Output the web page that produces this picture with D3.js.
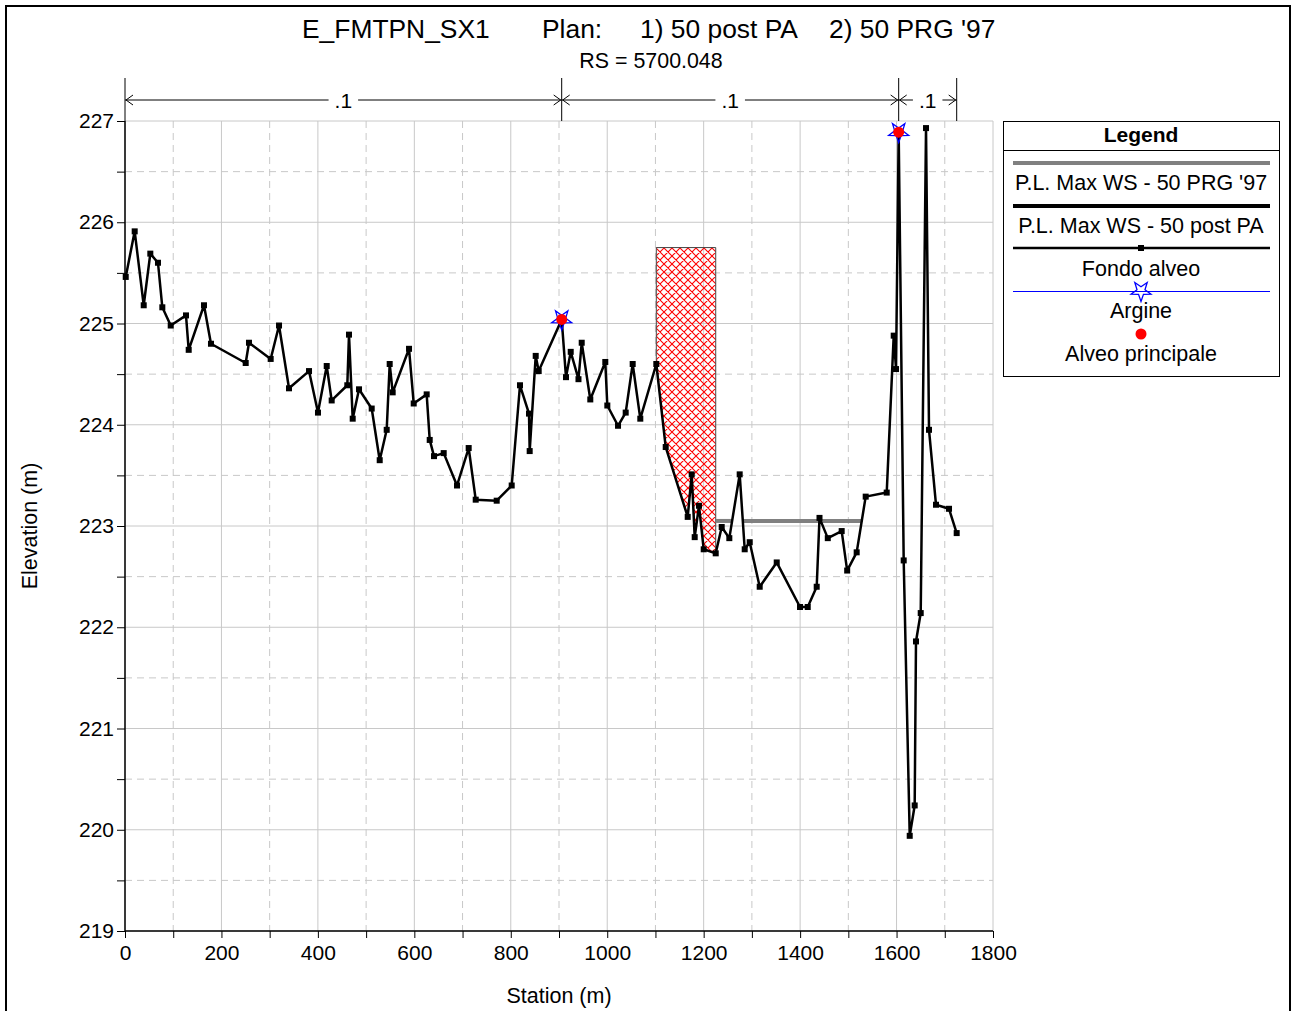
<!DOCTYPE html>
<html><head><meta charset="utf-8">
<script src="https://cdn.jsdelivr.net/npm/d3@7"></script>
<style>body{margin:0;background:#fff}svg text{font-family:"Liberation Sans",Arial,sans-serif}</style>
</head><body><svg id="c" width="1298" height="1011"></svg>
<script>
// ---- data ----
const station = [1.5,20.1,38.8,52.5,68.4,77.4,94.8,126.5,132.1,163.8,178.3,250.3,257.1,302.1,319.4,340.1,381.6,400.2,418.3,428.6,461,464.5,472.2,485.3,511.6,528.2,542.7,548.9,555.1,589,598.7,625.6,631.9,640.8,660.9,688.5,712.7,727.3,770.8,801.9,819.1,837.8,839.2,851.7,857.9,905.6,914.5,924.3,940.4,947.1,964.9,996,1000.2,1022.4,1038.3,1052.8,1068.6,1101.8,1121.3,1166.9,1175.2,1181.4,1190.3,1200.1,1225,1237.4,1253.2,1274.7,1285.1,1295.5,1316.2,1351.5,1399.8,1415.8,1434.4,1440.2,1457.4,1486.2,1497.6,1517.3,1536,1579.6,1594.1,1598.9,1604.4,1614.8,1627.3,1637.6,1640.3,1650.1,1661.1,1667.3,1681.8,1708.8,1724.7];
const elevation = [225.46,225.91,225.18,225.69,225.60,225.16,224.98,225.08,224.74,225.18,224.80,224.61,224.81,224.65,224.98,224.36,224.53,224.12,224.58,224.24,224.39,224.89,224.06,224.35,224.16,223.65,223.95,224.60,224.32,224.75,224.21,224.30,223.85,223.69,223.72,223.40,223.77,223.26,223.25,223.40,224.39,224.11,223.74,224.68,224.53,225.04,224.47,224.72,224.45,224.81,224.25,224.62,224.19,223.99,224.12,224.60,224.06,224.60,223.78,223.09,223.51,222.89,223.20,222.77,222.73,222.99,222.88,223.51,222.77,222.84,222.40,222.64,222.20,222.20,222.40,223.08,222.88,222.95,222.56,222.74,223.29,223.33,224.88,224.55,226.89,222.66,219.94,220.24,221.86,222.14,226.93,223.95,223.21,223.17,222.93];
const bankStations = [905.6, 1604.4];
const mannStations = [0, 905.6, 1604.4, 1724.7];
const mannValues = [".1", ".1", ".1"];
const obstruction = {from: 1101.8, to: 1225, top: 225.75};
const wsPRG97 = 223.05;      // P.L. Max WS - 50 PRG '97
const wsLimits = [1225, 1604.4];
const xTicks = [0,200,400,600,800,1000,1200,1400,1600,1800];
const yTicks = [219,220,221,222,223,224,225,226,227];
const legendItems = ["P.L. Max WS - 50 PRG '97","P.L. Max WS - 50 post PA","Fondo alveo","Argine","Alveo principale"];
const titleParts = ["E_FMTPN_SX1","Plan:","1) 50 post PA","2) 50 PRG '97"];
const subtitle = "RS = 5700.048";

// ---- drawing ----
const svg = d3.select("#c");
const x = d3.scaleLinear().domain([0,1800]).range([125,993]);
const y = d3.scaleLinear().domain([219,227]).range([931,121]);
const ground = station.map((s,i)=>({s, e: elevation[i]}));

// outer frame
svg.append("rect").attr("x",6).attr("y",6).attr("width",1284).attr("height",1010)
  .attr("fill","none").attr("stroke","#000").attr("stroke-width",2);

// hatch pattern
const defs = svg.append("defs");
const pat = defs.append("pattern").attr("id","hatch").attr("patternUnits","userSpaceOnUse")
  .attr("width",8).attr("height",8).attr("x",0).attr("y",0);
pat.append("path").attr("d","M-1,-1L9,9M9,-1L-1,9M-1,7L1,9M7,-1L9,1M7,9L9,7M-1,1L1,-1").attr("stroke","#ff0000").attr("stroke-width",1.1);

// grid
const g = svg.append("g");
const minorX = d3.range(100,1800,200), minorY = d3.range(219.5,227,1);
g.selectAll(".gmx").data(minorX).join("line").attr("x1",d=>x(d)).attr("x2",d=>x(d)).attr("y1",y(227)).attr("y2",y(219))
  .attr("stroke","#c8c8c8").attr("stroke-dasharray","7,5");
g.selectAll(".gmy").data(minorY).join("line").attr("y1",d=>y(d)).attr("y2",d=>y(d)).attr("x1",x(0)).attr("x2",x(1800))
  .attr("stroke","#c8c8c8").attr("stroke-dasharray","7,5");
g.selectAll(".gx").data(xTicks).join("line").attr("x1",d=>x(d)).attr("x2",d=>x(d)).attr("y1",y(227)).attr("y2",y(219))
  .attr("stroke","#c8c8c8");
g.selectAll(".gy").data(yTicks).join("line").attr("y1",d=>y(d)).attr("y2",d=>y(d)).attr("x1",x(0)).attr("x2",x(1800))
  .attr("stroke","#c8c8c8");

// axes
const xAxis = d3.axisBottom(x).tickValues(d3.range(0,1801,100)).tickSize(7)
  .tickFormat(d=> xTicks.includes(d)? d : "");
const ax = svg.append("g").attr("transform",`translate(0,${y(219)})`).call(xAxis);
ax.select(".domain").attr("stroke","#000").attr("stroke-width",1.5).attr("d",`M${x(0)},0H${x(1800)}`);
ax.selectAll("text").attr("font-size",21).attr("fill","#000").attr("y",8).attr("dy","1.0em");
const yAxis = d3.axisLeft(y).tickValues(d3.range(219,227.01,0.5)).tickSize(8)
  .tickFormat(d=> Number.isInteger(d)? d : "");
const ay = svg.append("g").attr("transform",`translate(${x(0)},0)`).call(yAxis);
ay.select(".domain").attr("stroke","#000").attr("stroke-width",1.5).attr("d",`M0,${y(227)}V${y(219)}`);
ay.selectAll("text").attr("font-size",21).attr("fill","#000").attr("x",-11);

svg.append("text").attr("x",559).attr("y",1003).attr("text-anchor","middle").attr("font-size",21.5).text("Station (m)");
svg.append("text").attr("transform",`translate(37,526) rotate(-90)`).attr("text-anchor","middle").attr("font-size",21.5).text("Elevation (m)");

// titles
const tx = [302,542,640,829];
titleParts.forEach((t,i)=> svg.append("text").attr("x",tx[i]).attr("y",38).attr("font-size",26.4).text(t));
svg.append("text").attr("x",651).attr("y",68).attr("text-anchor","middle").attr("font-size",21.4).text(subtitle);

// obstruction polygon
const obsGround = ground.filter(p=>p.s>=obstruction.from && p.s<=obstruction.to);
const obsPts = [[obstruction.from,obstruction.top],[obstruction.to,obstruction.top]]
  .concat(obsGround.slice().reverse().map(p=>[p.s,p.e]));
svg.append("path").attr("d", d3.line().x(d=>x(d[0])).y(d=>y(d[1]))(obsPts)+"Z")
  .attr("fill","url(#hatch)").attr("stroke","#444").attr("stroke-width",1);

// water surface segments (where ground below WS)
function wsSegments(ws, lo, hi){
  const segs=[]; let cur=null;
  for(let i=0;i<ground.length-1;i++){
    const a=ground[i], b=ground[i+1];
    if(b.s<=lo || a.s>=hi) continue;
    const aBelow=a.e<ws, bBelow=b.e<ws;
    const cross = (a.s + (ws-a.e)/(b.e-a.e)*(b.s-a.s));
    if(aBelow && !cur){ cur=[Math.max(a.s,lo)]; }
    if(aBelow && !bBelow){ cur.push(Math.min(cross,hi)); segs.push(cur); cur=null; }
    if(!aBelow && bBelow && cross<hi){ cur=[Math.max(cross,lo)]; }
  }
  if(cur){cur.push(hi);segs.push(cur);}
  return segs;
}
wsSegments(wsPRG97, wsLimits[0], wsLimits[1]).forEach(s=>{
  svg.append("line").attr("x1",x(s[0])).attr("x2",x(s[1])).attr("y1",y(wsPRG97)).attr("y2",y(wsPRG97))
    .attr("stroke","#808080").attr("stroke-width",4);
});

// ground line
svg.append("path").attr("d", d3.line().x(d=>x(d.s)).y(d=>y(d.e))(ground))
  .attr("fill","none").attr("stroke","#000").attr("stroke-width",2.5).attr("stroke-linejoin","round");
svg.selectAll(".mk").data(ground).join("rect").attr("x",d=>x(d.s)-3).attr("y",d=>y(d.e)-3)
  .attr("width",6).attr("height",6).attr("fill","#000");

// star symbol (inverted pentagram outline)
function starPath(cx,cy,R,r){
  const pts=[];
  for(let i=0;i<10;i++){
    const ang = Math.PI/2 + i*Math.PI/5; // start pointing down
    const rad = i%2===0? R : r;
    pts.push([cx+rad*Math.cos(ang), cy+rad*Math.sin(ang)]);
  }
  return "M"+pts.map(p=>p.join(",")).join("L")+"Z";
}
bankStations.forEach(bs=>{
  const i = station.indexOf(bs);
  const cx=x(bs), cy=y(elevation[i]);
  svg.append("path").attr("d",starPath(cx,cy,10.5,4.2)).attr("fill","none").attr("stroke","#0000ff").attr("stroke-width",1.3);
  svg.append("circle").attr("cx",cx).attr("cy",cy).attr("r",5.5).attr("fill","#ff0000");
});

// Manning's n
const ny = 100;
mannStations.forEach(s=> svg.append("line").attr("x1",x(s)).attr("x2",x(s)).attr("y1",78).attr("y2",y(227)).attr("stroke","#000").attr("stroke-width",1));
mannValues.forEach((v,i)=>{
  const x0=x(mannStations[i]), x1=x(mannStations[i+1]), xm=(x0+x1)/2;
  const t = svg.append("text").attr("x",xm).attr("y",ny+8).attr("text-anchor","middle").attr("font-size",21).text(v);
  const w = t.node().getComputedTextLength();
  const gap = w/2+6;
  svg.append("line").attr("x1",x0).attr("x2",xm-gap).attr("y1",ny).attr("y2",ny).attr("stroke","#000");
  svg.append("line").attr("x1",xm+gap).attr("x2",x1).attr("y1",ny).attr("y2",ny).attr("stroke","#000");
  svg.append("path").attr("d",`M${x0+8},${ny-5}L${x0+1},${ny}L${x0+8},${ny+5}`).attr("fill","none").attr("stroke","#000");
  svg.append("path").attr("d",`M${x1-8},${ny-5}L${x1-1},${ny}L${x1-8},${ny+5}`).attr("fill","none").attr("stroke","#000");
});

// legend
const L = svg.append("g");
L.append("rect").attr("x",1003.5).attr("y",121.5).attr("width",276).attr("height",255).attr("fill","#fff").attr("stroke","#000");
L.append("line").attr("x1",1003.5).attr("x2",1279.5).attr("y1",150.5).attr("y2",150.5).attr("stroke","#000");
L.append("text").attr("x",1141).attr("y",142).attr("text-anchor","middle").attr("font-size",21).attr("font-weight","bold").text("Legend");
const lx0=1013, lx1=1270, lcx=1141;
L.append("line").attr("x1",lx0).attr("x2",lx1).attr("y1",163).attr("y2",163).attr("stroke","#808080").attr("stroke-width",4);
L.append("line").attr("x1",lx0).attr("x2",lx1).attr("y1",206).attr("y2",206).attr("stroke","#000").attr("stroke-width",4);
L.append("line").attr("x1",lx0).attr("x2",lx1).attr("y1",248).attr("y2",248).attr("stroke","#000").attr("stroke-width",2.5);
L.append("rect").attr("x",lcx-3).attr("y",245).attr("width",6).attr("height",6).attr("fill","#000");
L.append("line").attr("x1",lx0).attr("x2",lx1).attr("y1",291.5).attr("y2",291.5).attr("stroke","#0000ff").attr("stroke-width",1.2);
L.append("path").attr("d",starPath(lcx,291,10.5,4.2)).attr("fill","none").attr("stroke","#0000ff").attr("stroke-width",1.3);
L.append("circle").attr("cx",lcx).attr("cy",334).attr("r",5.5).attr("fill","#ff0000");
const ly=[190,233,276,318,361];
legendItems.forEach((t,i)=> L.append("text").attr("x",lcx).attr("y",ly[i]).attr("text-anchor","middle").attr("font-size",21.5).text(t));
</script></body></html>
